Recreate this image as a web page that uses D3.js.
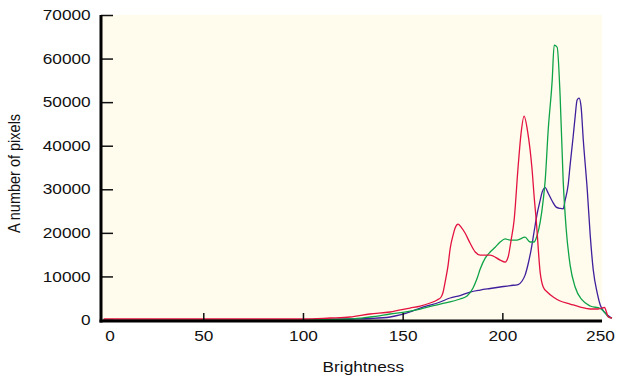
<!DOCTYPE html>
<html><head><meta charset="utf-8">
<script src="https://cdn.jsdelivr.net/npm/d3@7"></script>
<style>
body{margin:0;background:#fff}
text{font-family:"Liberation Sans",Arial,sans-serif}
</style>
</head><body>
<svg id="chart" width="618" height="379"></svg>
<script>
const xTicks=[0,50,100,150,200,250];
const yTicks=[0,10000,20000,30000,40000,50000,60000,70000];
const xTitle="Brightness";
const yTitle="A number of pixels";

// [brightness, count]
const redSeries=[[0,230],[50,230],[100.5,230],[113.6,460],[123.6,690],[133.6,1380],[143.7,1840],[153.7,2750],[158.8,3210],[163.8,3900],[167.3,4600],[169.3,5280],[170.3,6420],[171.3,8720],[172.8,12600],[173.8,16300],[175.3,19500],[176.3,21100],[177.8,22000],[179.3,21300],[181.3,19960],[183.8,17660],[186.4,15600],[188.9,14900],[193.9,14900],[198.9,13760],[201.4,13300],[202.9,14450],[204.4,18350],[205.9,22900],[207.9,35100],[209.4,42900],[210.9,46800],[212.8,42900],[214.8,35100],[216.1,27500],[217,22900],[219,10800],[220.5,7570],[222.5,6420],[225.5,5280],[229,4360],[234,3670],[239.1,2980],[244.1,2520],[248.1,2520],[251.2,2870],[253.2,690],[255,460]];
const greenSeries=[[0,0],[100.5,100],[123.6,230],[133.6,690],[143.7,1380],[153.7,2060],[158.8,2520],[168.8,3670],[178.8,4820],[182.3,5500],[185.3,7340],[187.4,9630],[188.9,11700],[191.4,14200],[193.9,15600],[196.4,16700],[198.9,17900],[201.4,18600],[203.9,18350],[207.4,18350],[211.4,19000],[213.9,17900],[215.9,17900],[217.5,19500],[219,22500],[220.5,27500],[221.5,32100],[223,43600],[225,55000],[226,63100],[227.5,62600],[229,51200],[230.5,32100],[232,21000],[234,12600],[236.5,7570],[240,4600],[244.1,3210],[249.1,2640],[251.6,1600],[253.2,690],[255,460]];
const blueSeries=[[0,0],[100.5,100],[123.6,230],[133.6,340],[143.7,690],[148.7,1150],[153.7,1840],[158.8,2750],[168.8,4130],[173.8,5050],[178.8,5620],[183.8,6420],[188.9,6880],[193.9,7230],[198.9,7570],[203.9,7910],[207.9,8140],[209.9,8950],[211.4,10300],[212.9,12800],[214.4,16060],[215.9,20200],[217.5,24500],[219,27500],[220,29400],[221.5,30400],[223,29100],[225,27300],[227,25900],[229,25600],[230.5,25500],[231.5,27500],[233,31000],[234,35600],[235.5,42000],[236.5,46600],[237.5,50500],[238.5,50900],[239.5,48900],[240.6,41300],[242.6,29800],[244.1,19300],[245.6,11500],[247.6,6190],[249.1,3440],[251.6,1600],[254.1,690],[255,460]];

const svg=d3.select("#chart");
const x=d3.scaleLinear().domain([0,255]).range([103.6,612]);
const y=d3.scaleLinear().domain([0,70000]).range([320,15]);
const axisX0=101;
const FS=14.5, SX=1.19;

// plot background
svg.append("rect").attr("x",axisX0).attr("y",y(70000))
  .attr("width",x(250)-axisX0).attr("height",y(0)-y(70000))
  .attr("fill","#fffcee");

// lines
const line=d3.line().x(d=>x(d[0])).y(d=>y(d[1])).curve(d3.curveMonotoneX);
[[blueSeries,"#3f1f9c"],[greenSeries,"#0fa347"],[redSeries,"#e3123f"]].forEach(([data,col])=>{
  svg.append("path").datum(data).attr("d",line)
    .attr("fill","none").attr("stroke",col).attr("stroke-width",1.3)
    .attr("stroke-linejoin","round");
});

// y axis
const gy=svg.append("g").attr("transform",`translate(${axisX0},0)`)
  .call(d3.axisLeft(y).tickValues(yTicks).tickSizeInner(-12).tickSizeOuter(0).tickPadding(8.7).tickFormat(d3.format("d")));
gy.select(".domain").remove();
gy.selectAll(".tick line").attr("stroke","#111").attr("stroke-width",1.5);
gy.selectAll(".tick text").attr("font-size",FS).attr("fill","#111")
  .attr("font-family","Liberation Sans, Arial, sans-serif")
  .attr("transform",`scale(${SX},1)`);

// x axis
const gx=svg.append("g").attr("transform",`translate(0,${y(0)+1})`)
  .call(d3.axisBottom(x).tickValues(xTicks).tickSizeInner(-8).tickSizeOuter(0).tickPadding(10));
gx.select(".domain").remove();
gx.selectAll(".tick line").attr("stroke","#111").attr("stroke-width",1.5)
  .attr("display",d=>(d===0||d===250)?"none":null);
gx.selectAll(".tick text").attr("font-size",FS).attr("fill","#111")
  .attr("font-family","Liberation Sans, Arial, sans-serif")
  .attr("transform",`scale(${SX},1)`)
  .attr("dx",d=>d===0?5:(d===250?-1.7:0));

// axis lines
svg.append("line").attr("x1",axisX0).attr("x2",axisX0)
  .attr("y1",y(70000)).attr("y2",y(0)+2.5)
  .attr("stroke","#000").attr("stroke-width",3);
svg.append("line").attr("x1",axisX0-1.5).attr("x2",x(250))
  .attr("y1",y(0)+1).attr("y2",y(0)+1)
  .attr("stroke","#000").attr("stroke-width",3);

// titles
svg.append("text").attr("transform",`translate(363.3,371.7) scale(${SX},1)`)
  .attr("text-anchor","middle").attr("font-size",FS).attr("fill","#111").text(xTitle);
svg.append("text").attr("transform",`translate(20,173.5) scale(${SX},1) rotate(-90)`)
  .attr("text-anchor","middle").attr("font-size",FS).attr("fill","#111").text(yTitle);
</script>
</body></html>
